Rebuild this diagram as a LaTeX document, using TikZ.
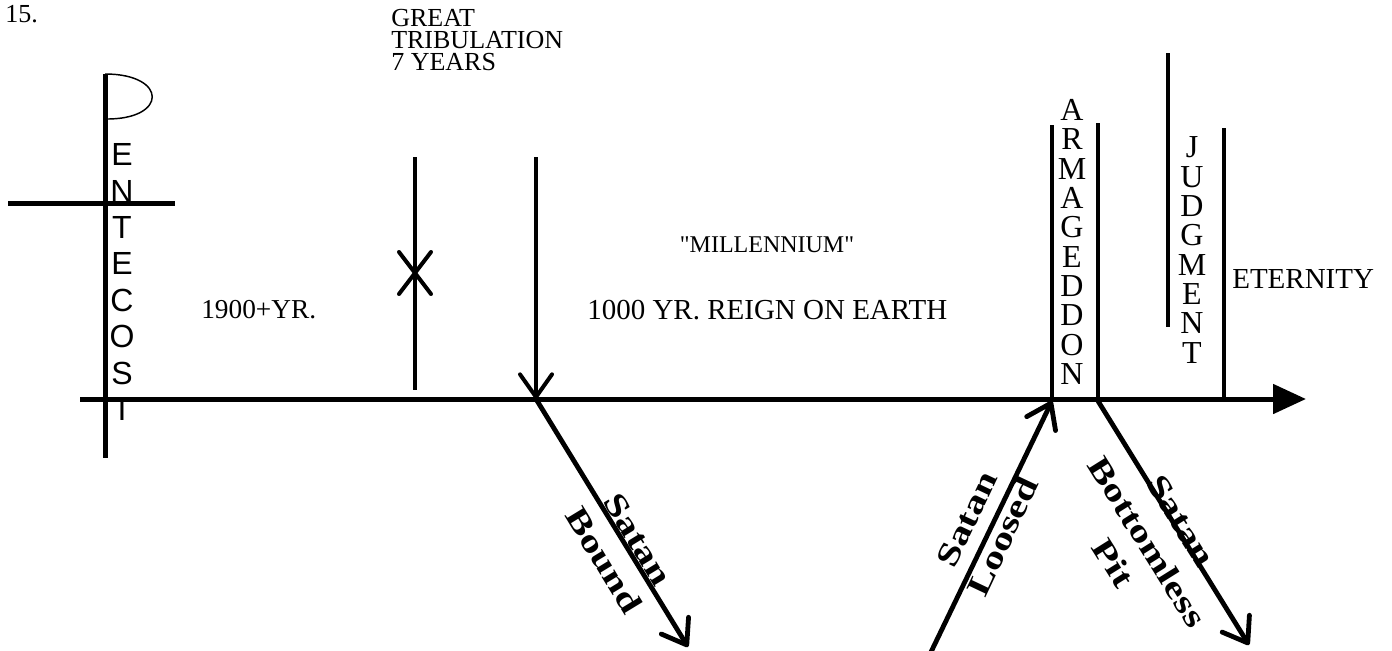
\documentclass[tikz,border=0pt]{standalone}
\usepackage{fontspec}
\setmainfont{Liberation Serif}
\newfontfamily\arialfont{Liberation Sans}
\usepackage{tikz}
\usetikzlibrary{arrows.meta,calc}
\tikzset{%
  % texts
  plaintext/.style={font=\fontsize{21.75}{24}\selectfont, inner sep=0pt},
  smalltext/.style={font=\fontsize{19.5}{16.5}\selectfont, inner sep=0pt},
  vletters/.style={font=\fontsize{24}{22}\selectfont, align=center, inner sep=0pt},
  sletters/.style={font=\arialfont\fontsize{24}{27.3}\selectfont, align=center, inner sep=0pt},
  satanlbl/.style={font=\bfseries\fontsize{24}{30}\selectfont, align=center,
    inner sep=0pt, rotate=#1, xscale=1.3},
  % lines
  timeline/.style={line width=3.75pt, -{Triangle[length=24.75pt,width=21.75pt]}},
  postline/.style={line width=3pt},
  crossline/.style={line width=3.75pt},
  barbtip/.style={line width=3.6pt, -{Straight Barb[length=17pt,width=24pt,round]}},
  flagline/.style={line width=1.1pt},
}

\begin{document}
\begin{tikzpicture}[x=0.75pt, y=-0.75pt]
  \useasboundingbox (0,0) rectangle (1392,650);

  % points on the time line
  \coordinate (tStart) at (80,399);
  \coordinate (tEnd) at (1306,399);
  \coordinate (pTop) at (105,74);
  \coordinate (pBot) at (105,458);
  \coordinate (crossL) at (8,203);
  \coordinate (crossR) at (175,203);
  \coordinate (tribTop) at (415,157);
  \coordinate (tribBot) at (415,390);
  \coordinate (millTop) at (536,157);
  \coordinate (millBot) at (536,399);
  \coordinate (boundEnd) at (688,647);
  \coordinate (armLTop) at (1052,125);
  \coordinate (armLBot) at (1052,401);
  \coordinate (armRTop) at (1098,123);
  \coordinate (armRBot) at (1098,401);
  \coordinate (looseStart) at (931,652);
  \coordinate (pitEnd) at (1249,645);
  \coordinate (judgTop) at (1168,53);
  \coordinate (judgBot) at (1168,327);
  \coordinate (eterTop) at (1224,128);
  \coordinate (eterBot) at (1224,401);

  % texts
  \node[smalltext, anchor=west] (num) at (5,14) {15.};
  \node[smalltext, anchor=north west, align=left] (trib) at (391,9)
    {GREAT\\TRIBULATION\\7 YEARS};
  \node[plaintext, anchor=west, font=\fontsize{20.5}{24}\selectfont] (church) at (201,310) {1900+YR.};
  \node[plaintext, font=\fontsize{18}{24}\selectfont] (mill) at (767,245)
    {\textquotedbl MILLENNIUM\textquotedbl};
  \node[plaintext, anchor=west] (reign) at (587,310) {1000 YR. REIGN ON EARTH};
  \node[plaintext, anchor=west] (eternity) at (1232,279) {ETERNITY};

  \node[sletters] (pentecost) at (122,282) {E\\N\\T\\E\\C\\O\\S\\I};
  \node[vletters] (armageddon) at (1072,242) {A\\R\\M\\A\\G\\E\\D\\D\\O\\N};
  \node[vletters] (judgment) at (1192,250) {J\\U\\D\\G\\M\\E\\N\\T};

  % pentecost cross and flag
  \draw[crossline] (pTop) -- (pBot);
  \draw[crossline] (crossL) -- (crossR);
  \draw[flagline] (pTop) .. controls (168,74) and (168,120) .. (105,119);

  % the time line
  \draw[timeline] (tStart) -- (tEnd);

  \draw[postline] (tribTop) -- (tribBot);
  \draw[postline, line cap=round] (399,252) -- (431,294);
  \draw[postline, line cap=round] (431,252) -- (399,294);

  \draw[postline, -{Straight Barb[length=17pt,width=24pt,round]}] (millTop) -- (millBot);

  \draw[postline] (armLTop) -- (armLBot);
  \draw[postline] (armRTop) -- (armRBot);
  \draw[postline] (judgTop) -- (judgBot);
  \draw[postline] (eterTop) -- (eterBot);

  % satan
  \draw[barbtip] (millBot) -- (boundEnd);
  \draw[barbtip] (looseStart) -- (armLBot);
  \draw[barbtip] (armRBot) -- (pitEnd);

  \node[satanlbl=-58.6] (bound) at (621,550) {Satan\\Bound};
  \node[satanlbl=64.7] (loosed) at (985,528) {Satan\\Loosed};
  \node[satanlbl=-57.9] (pit) at (1147,542) {Satan\\Bottomless\\Pit};
\end{tikzpicture}
\end{document}
